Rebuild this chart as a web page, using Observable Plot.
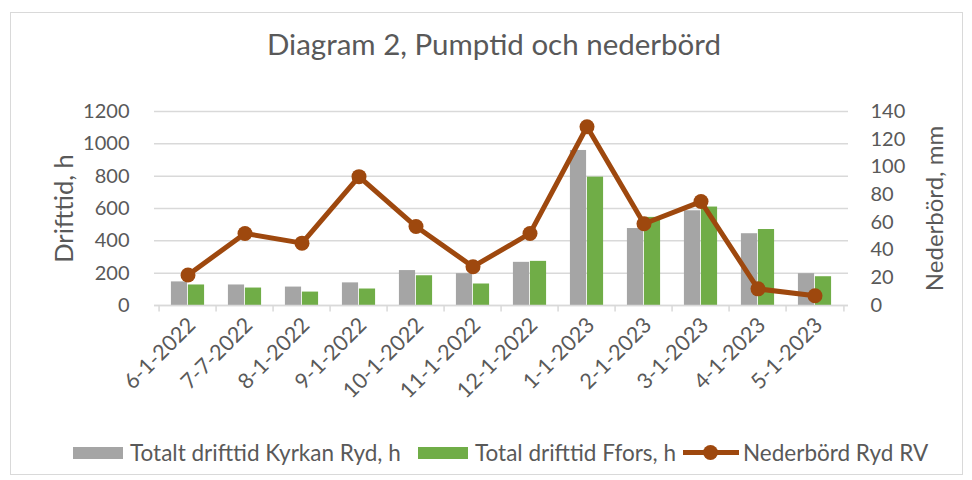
<!DOCTYPE html>
<html><head><meta charset="utf-8">
<script src="https://cdn.jsdelivr.net/npm/d3@7"></script>
<script src="https://cdn.jsdelivr.net/npm/@observablehq/plot@0.6"></script>
<style>
body{margin:0;background:#fff;font-family:Lato,"Open Sans",sans-serif;color:#595959}
#wrap{position:relative;width:972px;height:480px;overflow:hidden;background:#fff}
#frame{position:absolute;left:10px;top:12px;width:953px;height:463px;border:1px solid #D9D9D9;box-sizing:border-box}
#title{position:absolute;left:8px;top:26px;width:972px;text-align:center;font-size:29.5px;line-height:36px}
#chart{position:absolute;left:0;top:80px}
.lg{position:absolute;top:439px;font-size:22.5px;line-height:27px;white-space:nowrap}
.sw{position:absolute;top:447px;height:12px;width:50px}
</style>
</head><body>
<div id="wrap">
  <div id="frame"></div>
  <div id="title">Diagram 2, Pumptid och nederbörd</div>
  <div id="chart"></div>
  <div id="legend"></div>
</div>
<script>
const categories = ["6-1-2022","7-7-2022","8-1-2022","9-1-2022","10-1-2022","11-1-2022","12-1-2022","1-1-2023","2-1-2023","3-1-2023","4-1-2023","5-1-2023"];
const kyrkan = [146,127,114,140,216,197,267,959,476,586,444,197];
const ffors = [127,108,83,102,184,133,273,794,545,609,470,178];
const nederbord = [22,52,45,93,57,28,52,129,59,75,12,7];
const leftTicks = [0,200,400,600,800,1000,1200];
const rightTicks = [0,20,40,60,80,100,120,140];
const seriesNames = ["Totalt drifttid Kyrkan Ryd, h","Total drifttid Ffors, h","Nederbörd Ryd RV"];
const colors = ["#A5A5A5","#70AD47","#9E480E"];

const W = 972, H = 340, ML = 154, MR = 124, MT = 31, MB = 115;
const bw = (W - ML - MR) / categories.length;
const barW = 17;
const k = 1200 / 140;

const rows = categories.map((c, i) => ({cat: c, kyrkan: kyrkan[i], ffors: ffors[i], rain: nederbord[i]}));

const chart = Plot.plot({
  width: W, height: H,
  marginLeft: ML, marginRight: MR, marginTop: MT, marginBottom: MB,
  x: {type: "band", domain: categories, padding: 0},
  y: {domain: [0, 1200]},
  style: {fontFamily: "Lato, 'Open Sans', sans-serif", color: "#595959", background: "transparent"},
  marks: [
    Plot.gridY(leftTicks, {stroke: "#D9D9D9", strokeOpacity: 1, strokeWidth: 1.5}),
    Plot.axisY({ticks: leftTicks, tickFormat: d => String(d), tickSize: 0, tickPadding: 25, fontSize: 20, label: null}),
    Plot.axisY({ticks: [], label: "Drifttid, h", labelAnchor: "center", labelArrow: "none", labelOffset: 100, fontSize: 25.5}),
    Plot.axisY({anchor: "right", ticks: rightTicks.map(v => v * k), tickFormat: d => String(Math.round(d / k)), tickSize: 0, tickPadding: 22, fontSize: 20, label: null}),
    Plot.axisY({anchor: "right", ticks: [], label: "Nederbörd, mm", labelAnchor: "center", labelArrow: "none", labelOffset: 94, fontSize: 24}),
    Plot.barY(rows, {x: "cat", y: "kyrkan", fill: colors[0], insetLeft: bw / 2 - barW, insetRight: bw / 2}),
    Plot.barY(rows, {x: "cat", y: "ffors", fill: colors[1], insetLeft: bw / 2, insetRight: bw / 2 - barW}),
    Plot.ruleY([0], {stroke: "#D9D9D9", strokeWidth: 1.5}),
    Plot.ruleX(categories, {x: d => d, dx: -bw / 2, y1: 0, y2: -40, stroke: "#D9D9D9", strokeWidth: 1.5}),
    Plot.ruleX([categories[categories.length - 1]], {x: d => d, dx: bw / 2, y1: 0, y2: -40, stroke: "#D9D9D9", strokeWidth: 1.5}),
    Plot.axisX({tickRotate: -45, tickSize: 0, tickPadding: 16, dx: 4, fontSize: 21.5, label: null}),
    Plot.line(rows, {x: "cat", y: d => d.rain * k, stroke: colors[2], strokeWidth: 5}),
    Plot.dot(rows, {x: "cat", y: d => d.rain * k, r: 7.5, fill: colors[2], stroke: "none"})
  ]
});
document.getElementById("chart").appendChild(chart);

const legend = document.getElementById("legend");
const items = [
  {sw: 73, tx: 130, kind: "rect"},
  {sw: 418, tx: 475, kind: "rect"},
  {sw: 683, tx: 743, kind: "line"}
];
items.forEach((it, i) => {
  if (it.kind === "rect") {
    const s = document.createElement("div");
    s.className = "sw"; s.style.left = it.sw + "px"; s.style.background = colors[i];
    legend.appendChild(s);
  } else {
    const l = document.createElement("div");
    l.style.cssText = `position:absolute;left:${it.sw}px;top:450px;width:56px;height:5px;background:${colors[i]}`;
    legend.appendChild(l);
    const d = document.createElement("div");
    d.style.cssText = `position:absolute;left:${it.sw + 20}px;top:445px;width:15px;height:15px;border-radius:50%;background:${colors[i]}`;
    legend.appendChild(d);
  }
  const t = document.createElement("div");
  t.className = "lg"; t.style.left = it.tx + "px"; t.textContent = seriesNames[i];
  legend.appendChild(t);
});
</script>
</body></html>
